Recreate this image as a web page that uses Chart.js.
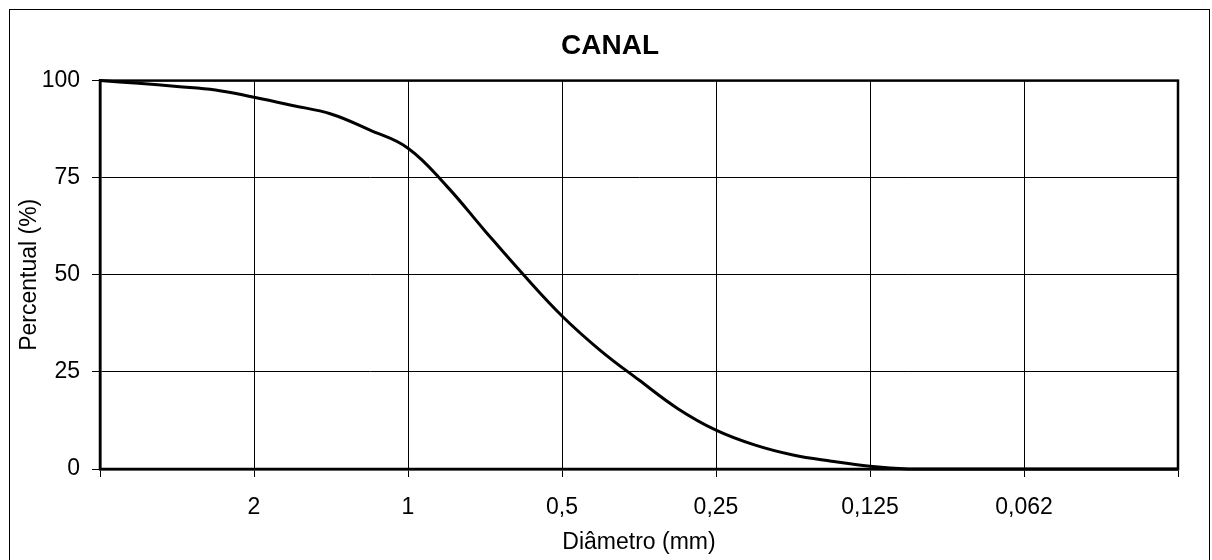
<!DOCTYPE html>
<html><head><meta charset="utf-8">
<script src="https://cdn.jsdelivr.net/npm/chart.js@4.4.1/dist/chart.umd.min.js"></script>
<style>html,body{margin:0;padding:0;background:#fff}#wrap{width:1212px;height:560px;position:relative}</style>
</head><body><div id="wrap"><canvas id="c" width="1212" height="560"></canvas></div>
<script>
// ---- data ----
const chartTitle = 'CANAL';
const xTitle = 'Diâmetro (mm)';
const yTitle = 'Percentual (%)';
// x position in phi units (-log2 of diameter in mm)
const phi     = [-2, -1.75, -1.5, -1.25, -1, -0.75, -0.5, -0.25, 0, 0.25, 0.5, 0.75, 1, 1.25, 1.5, 1.75, 2, 2.25, 2.5, 2.75, 3, 3.25, 3.5, 4, 4.5, 5];
const percent = [100, 99.3, 98.5, 97.6, 95.7, 93.6, 91.4, 87.3, 82.6, 72.9, 61.3, 50, 39.4, 30.5, 22.9, 15.6, 10.0, 6.2, 3.6, 2.0, 0.7, 0, 0, 0, 0, 0];
const xTickValues = [-2, -1, 0, 1, 2, 3, 4, 5];
const xTickLabels = ['', '2', '1', '0,5', '0,25', '0,125', '0,062', ''];
const yTickValues = [0, 25, 50, 75, 100];

const FAM = '"Liberation Sans", Arial, sans-serif';

const outerBorder = {
  id: 'outerBorder',
  afterDraw(chart) {
    const ctx = chart.ctx;
    ctx.save();
    ctx.strokeStyle = '#000';
    ctx.lineWidth = 1;
    ctx.strokeRect(9.5, 9.5, 1200, 570);
    ctx.restore();
  }
};
const plotFrame = {
  id: 'plotFrame',
  beforeDatasetsDraw(chart) {
    const a = chart.chartArea, ctx = chart.ctx;
    ctx.save();
    ctx.strokeStyle = '#000';
    ctx.lineWidth = 2.5;
    ctx.strokeRect(a.left, a.top, a.right - a.left, a.bottom - a.top);
    ctx.restore();
  }
};

new Chart(document.getElementById('c'), {
  type: 'line',
  data: {
    datasets: [{
      data: phi.map((p, i) => ({ x: p, y: percent[i] })),
      borderColor: '#000',
      borderWidth: 3,
      pointRadius: 0,
      fill: false,
      tension: 0.4,
      clip: false
    }]
  },
  options: {
    responsive: false,
    animation: false,
    devicePixelRatio: 1,
    layout: { padding: { left: 10, right: 2, top: 10, bottom: 0 } },
    plugins: {
      legend: { display: false },
      tooltip: { enabled: false },
      title: {
        display: true, text: chartTitle, color: '#000',
        font: { family: FAM, size: 28, weight: 'bold' },
        padding: { top: 19, bottom: 18 }
      }
    },
    scales: {
      x: {
        type: 'linear', min: -2, max: 5,
        afterBuildTicks: s => { s.ticks = xTickValues.map(v => ({ value: v })); },
        ticks: {
          autoSkip: false, maxRotation: 0, color: '#000', padding: 17,
          font: { family: FAM, size: 23 },
          callback: v => { const i = xTickValues.indexOf(v); return i >= 0 ? xTickLabels[i] : ''; }
        },
        grid: { color: '#000', lineWidth: 1, tickLength: 8, drawTicks: true },
        border: { color: '#000', width: 2.5 },
        title: { display: true, text: xTitle, color: '#000', font: { family: FAM, size: 23 }, padding: { top: 0, bottom: 4 } },
        afterFit: s => { s.height = 91; }
      },
      y: {
        type: 'linear', min: 0, max: 100, position: 'left',
        afterBuildTicks: s => { s.ticks = yTickValues.map(v => ({ value: v })); },
        ticks: { color: '#000', padding: 12, font: { family: FAM, size: 23 } },
        grid: { color: '#000', lineWidth: 1, tickLength: 8, drawTicks: true },
        border: { color: '#000', width: 2.5 },
        title: { display: true, text: yTitle, color: '#000', font: { family: FAM, size: 23 }, padding: { top: 6, bottom: 0 } },
        afterFit: s => { s.width = 90; }
      },
      y2: {
        type: 'linear', position: 'right', min: 0, max: 100,
        grid: { display: false, drawTicks: false },
        ticks: { display: false },
        border: { display: false },
        afterFit: s => { s.width = 32; }
      }
    }
  },
  plugins: [outerBorder, plotFrame]
});
</script></body></html>
